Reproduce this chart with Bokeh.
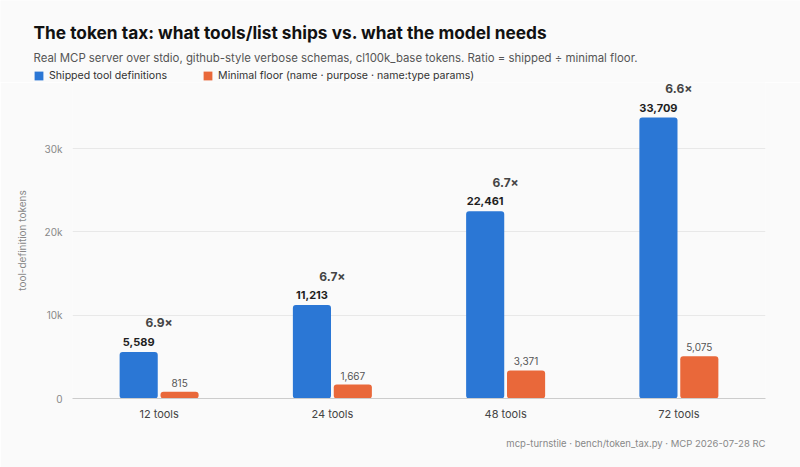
from bokeh.plotting import figure
from bokeh.layouts import column, row
from bokeh.models import (ColumnDataSource, Range1d, FixedTicker, NumeralTickFormatter,
                          Title, Legend, LegendItem, FactorRange, Label)
from bokeh.transform import dodge
from bokeh.core.properties import value
from bokeh.embed import file_html
from bokeh.resources import INLINE

# token counts per server size
categories = ["12 tools", "24 tools", "48 tools", "72 tools"]
shipped = [5589, 11213, 22461, 33709]
minimal = [815, 1667, 3371, 5075]
ratio_labels = ["6.9×", "6.7×", "6.7×", "6.6×"]
y_ticks = [0, 10000, 20000, 30000]
series_names = ["Shipped tool definitions",
                "Minimal floor (name · purpose · name:type params)"]

FONT = "Inter"
BG = "#fafafa"
BLUE = "#2b77d5"
ORANGE = "#e9683a"
W = 800
HEADER_H = 82
MAIN_H = 467 - HEADER_H

# ---------- header: title, subtitle and legend ----------
header = figure(
    width=W, height=HEADER_H,
    x_range=Range1d(0, W), y_range=Range1d(HEADER_H, 0),
    x_axis_location=None, y_axis_location=None,
    output_backend="svg", toolbar_location=None,
    min_border=0, background_fill_color=BG, border_fill_color=BG,
)
header.outline_line_color = None
header.grid.visible = False

header.add_layout(Label(x=33, y=32, text="The token tax: what tools/list ships vs. what the model needs",
                        text_font=FONT, text_font_size="17.3px", text_font_style="bold",
                        text_color="#111111", text_baseline="middle"))
header.add_layout(Label(x=33, y=57,
                        text="Real MCP server over stdio, github-style verbose schemas, cl100k_base tokens. Ratio = shipped ÷ minimal floor.",
                        text_font=FONT, text_font_size="11.4px",
                        text_color="#555555", text_baseline="middle"))

# legend swatches: one off-screen bar per series, styled like the chart bars
sw_ship = header.vbar(x=[-100], top=[0], width=1, fill_color=BLUE, line_color=None)
sw_min = header.vbar(x=[-100], top=[0], width=1, fill_color=ORANGE, line_color=None)
legend = Legend(
    items=[LegendItem(label=series_names[0], renderers=[sw_ship]),
           LegendItem(label=series_names[1], renderers=[sw_min])],
    location=(33, 0), orientation="horizontal",
    background_fill_alpha=0, border_line_color=None,
    padding=0, margin=0, spacing=35,
    glyph_width=11, glyph_height=11, label_standoff=5,
    label_text_font=FONT, label_text_font_size="10.6px", label_text_color="#333333",
)
header.add_layout(legend, "center")

# ---------- main bar chart ----------
source = ColumnDataSource(data=dict(
    cat=categories,
    shipped=shipped,
    minimal=minimal,
    shipped_txt=[f"{v:,}" for v in shipped],
    minimal_txt=[f"{v:,}" for v in minimal],
    ratio=ratio_labels,
))

p = figure(
    width=W, height=MAIN_H,
    x_range=FactorRange(*categories, range_padding=0),
    y_range=Range1d(0, 37920),
    output_backend="svg", toolbar_location=None,
    min_border_left=72, min_border_right=35,
    min_border_top=0, min_border_bottom=69,
    background_fill_color=BG, border_fill_color=BG,
)
p.outline_line_color = None

bar_w = 0.22
off = 0.118
p.vbar(x=dodge("cat", -off, range=p.x_range), top="shipped", width=bar_w,
       source=source, fill_color=BLUE, line_color=None, border_radius=3)
p.vbar(x=dodge("cat", off, range=p.x_range), top="minimal", width=bar_w,
       source=source, fill_color=ORANGE, line_color=None, border_radius=3)

# value labels and ratios
p.text(x=dodge("cat", -off, range=p.x_range), y="shipped", text="shipped_txt", source=source,
       text_align="center", text_baseline="middle", y_offset=-10,
       text_font=value(FONT), text_font_size="11px", text_font_style="bold",
       text_color="#1f1f1f")
p.text(x=dodge("cat", off, range=p.x_range), y="minimal", text="minimal_txt", source=source,
       text_align="center", text_baseline="middle", y_offset=-9,
       text_font=value(FONT), text_font_size="10px", text_color="#555555")
p.text(x="cat", y="shipped", text="ratio", source=source,
       text_align="center", text_baseline="middle", y_offset=-29,
       text_font=value(FONT), text_font_size="12px", text_font_style="bold",
       text_color="#444444")

# axes
p.yaxis.ticker = FixedTicker(ticks=y_ticks)
p.yaxis.formatter = NumeralTickFormatter(format="0a")
p.yaxis.axis_line_color = None
p.yaxis.major_tick_line_color = None
p.yaxis.minor_tick_line_color = None
p.yaxis.major_label_text_font = FONT
p.yaxis.major_label_text_font_size = "10px"
p.yaxis.major_label_text_color = "#888888"
p.yaxis.major_label_standoff = 4
p.yaxis.axis_label = "tool-definition tokens"
p.yaxis.axis_label_text_font = FONT
p.yaxis.axis_label_text_font_size = "10px"
p.yaxis.axis_label_text_font_style = "normal"
p.yaxis.axis_label_text_color = "#888888"
p.yaxis.axis_label_standoff = 14

p.xaxis.axis_line_color = "#cccccc"
p.xaxis.major_tick_line_color = None
p.xaxis.minor_tick_line_color = None
p.xaxis.major_label_text_font = FONT
p.xaxis.major_label_text_font_size = "11px"
p.xaxis.major_label_text_color = "#444444"
p.xaxis.major_label_standoff = 2

p.xgrid.grid_line_color = None
p.ygrid.grid_line_color = "#e8e8e8"
p.ygrid.ticker = FixedTicker(ticks=y_ticks[1:])

# blank strip between the category labels and the source footer
p.add_layout(Title(text=" ", standoff=0, text_font=FONT, text_font_size="8px"), "below")
# source footer
p.add_layout(Title(text="mcp-turnstile · bench/token_tax.py · MCP 2026-07-28 RC",
                   align="right", standoff=0,
                   text_font=FONT, text_font_size="9.5px", text_font_style="normal",
                   text_color="#888888"), "below")

# the header sits in its own row so its frame keeps the full page width
layout = column(row(header), p, spacing=0)
open("out.html", "w").write(file_html(layout, INLINE))
